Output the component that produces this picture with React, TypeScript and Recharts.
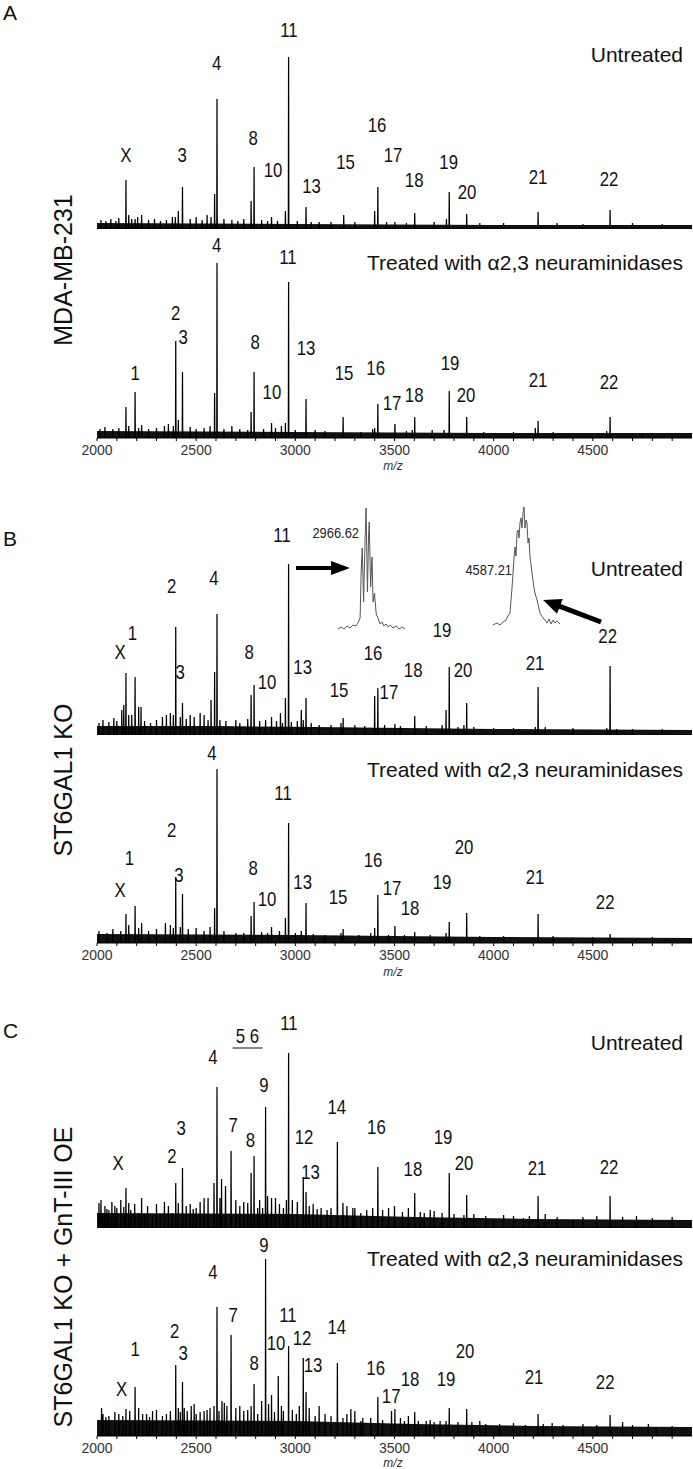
import React from 'react';
import { ComposedChart, LineChart, Line, Area, Scatter, XAxis, YAxis } from 'recharts';

type Pk = [number, number];
type Lb = { t: string; mz: number; y: number; u?: boolean };

const FONT = '"Liberation Sans", Arial, Helvetica, sans-serif';

const MAJOR_TICKS = [2000, 2500, 3000, 3500, 4000, 4500];
const MINOR_TICKS = [2000, 2100, 2200, 2300, 2400, 2500, 2600, 2700, 2800, 2900, 3000, 3100, 3200, 3300, 3400, 3500, 3600, 3700, 3800, 3900, 4000, 4100, 4200, 4300, 4400, 4500, 4600, 4700, 4800, 4900];

// ---------- Panel A : MDA-MB-231 ----------
const A_TOP_PEAKS: Pk[] = [[2146, 49], [2192, 10], [2225, 14], [2395, 12], [2410, 18], [2431, 42], [2575, 12], [2593, 35], [2605, 130], [2777, 28], [2792, 62], [2880, 12], [2950, 18], [2966, 172], [3054, 22], [3244, 14], [3400, 18], [3416, 42], [3502, 7], [3602, 16], [3762, 10], [3776, 37], [3864, 15], [4224, 17], [4587, 19]];
const A_TOP_MINOR: Pk[] = [[2020, 9], [2045, 8], [2070, 10], [2095, 8], [2110, 11], [2160, 14], [2175, 10], [2205, 12], [2260, 9], [2290, 10], [2320, 8], [2350, 9], [2380, 12], [2470, 10], [2500, 12], [2530, 9], [2555, 14], [2640, 10], [2680, 9], [2710, 8], [2740, 10], [2830, 9], [2860, 8], [2910, 8], [3010, 8], [3080, 7], [3120, 7], [3180, 7], [3300, 7], [3460, 7], [3560, 6], [3700, 7], [3930, 6], [4050, 6], [4320, 6], [4450, 5], [4700, 6], [4850, 5]];
const A_TOP_NOISE: Pk[] = [[2000, 6], [3000, 5], [4000, 4], [5000, 4]];
const A_TOP_LABELS: Lb[] = [
  { t: 'X', mz: 2146, y: 74 }, { t: '3', mz: 2429, y: 74 }, { t: '4', mz: 2603, y: 166 }, { t: '8', mz: 2787, y: 91 },
  { t: '10', mz: 2888, y: 59 }, { t: '11', mz: 2968, y: 199 }, { t: '13', mz: 3082, y: 43 }, { t: '15', mz: 3253, y: 67 },
  { t: '16', mz: 3412, y: 104 }, { t: '17', mz: 3493, y: 74 }, { t: '18', mz: 3599, y: 49 }, { t: '19', mz: 3773, y: 67 },
  { t: '20', mz: 3866, y: 37 }, { t: '21', mz: 4224, y: 52 }, { t: '22', mz: 4582, y: 50 },
];

const A_BOT_PEAKS: Pk[] = [[2146, 31], [2192, 46], [2225, 13], [2385, 12], [2397, 97], [2410, 18], [2431, 66], [2593, 45], [2605, 175], [2777, 26], [2792, 66], [2880, 15], [2950, 15], [2966, 156], [3054, 39], [3241, 21], [3330, 6], [3400, 10], [3416, 34], [3502, 14], [3590, 8], [3602, 21], [3690, 8], [3776, 47], [3864, 21], [4224, 17], [4587, 21]];
const A_BOT_MINOR: Pk[] = [[2015, 9], [2040, 11], [2080, 9], [2110, 10], [2160, 12], [2210, 10], [2260, 9], [2300, 10], [2340, 12], [2360, 14], [2470, 11], [2500, 9], [2540, 10], [2570, 12], [2640, 9], [2680, 12], [2720, 9], [2760, 8], [2840, 9], [2900, 10], [2930, 12], [3000, 8], [3100, 8], [3150, 7], [3390, 9], [3560, 7], [3750, 8], [3950, 6], [4100, 6], [4210, 10], [4300, 6], [4570, 7], [4750, 5]];
const A_BOT_NOISE: Pk[] = [[2000, 7], [3000, 6], [4000, 5], [5000, 5]];
const A_BOT_LABELS: Lb[] = [
  { t: '1', mz: 2192, y: 65 }, { t: '2', mz: 2396, y: 125 }, { t: '3', mz: 2434, y: 101 }, { t: '4', mz: 2603, y: 193 },
  { t: '8', mz: 2797, y: 96 }, { t: '10', mz: 2882, y: 46 }, { t: '11', mz: 2963, y: 181 }, { t: '13', mz: 3054, y: 90 },
  { t: '15', mz: 3246, y: 65 }, { t: '16', mz: 3405, y: 70 }, { t: '17', mz: 3488, y: 35 }, { t: '18', mz: 3599, y: 43 },
  { t: '19', mz: 3780, y: 75 }, { t: '20', mz: 3861, y: 43 }, { t: '21', mz: 4224, y: 58 }, { t: '22', mz: 4582, y: 56 },
];

// ---------- Panel B : ST6GAL1 KO ----------
const B_TOP_PEAKS: Pk[] = [[2146, 62], [2160, 20], [2192, 58], [2210, 28], [2222, 28], [2385, 20], [2397, 108], [2431, 32], [2560, 15], [2575, 35], [2593, 63], [2605, 121], [2777, 40], [2792, 50], [2880, 18], [2935, 12], [2950, 37], [2966, 171], [3040, 15], [3054, 37], [3230, 12], [3241, 17], [3400, 39], [3416, 47], [3502, 11], [3602, 19], [3760, 25], [3776, 68], [3850, 10], [3864, 32], [4210, 8], [4224, 48], [4570, 7], [4587, 69], [4620, 6]];
const B_TOP_MINOR: Pk[] = [[2010, 12], [2030, 15], [2060, 13], [2085, 17], [2100, 14], [2125, 25], [2135, 30], [2175, 20], [2240, 14], [2270, 12], [2300, 15], [2330, 18], [2350, 20], [2370, 22], [2420, 18], [2450, 16], [2470, 20], [2490, 18], [2520, 22], [2540, 20], [2620, 15], [2650, 14], [2700, 15], [2720, 12], [2760, 16], [2820, 14], [2850, 15], [2905, 14], [2925, 22], [2980, 13], [3010, 14], [3030, 25], [3080, 12], [3120, 10], [3180, 10], [3300, 10], [3350, 9], [3450, 10], [3530, 9], [3660, 9], [3740, 10], [3820, 8], [3900, 8], [4000, 7], [4100, 7], [4260, 8], [4400, 7], [4700, 6], [4850, 6]];
const B_TOP_NOISE: Pk[] = [[2000, 9], [2600, 9], [3100, 8], [4000, 6], [5000, 5]];
const B_TOP_LABELS: Lb[] = [
  { t: 'X', mz: 2116, y: 83 }, { t: '1', mz: 2179, y: 102 }, { t: '2', mz: 2376, y: 149 }, { t: '3', mz: 2419, y: 63 },
  { t: '4', mz: 2590, y: 157 }, { t: '8', mz: 2767, y: 83 }, { t: '10', mz: 2857, y: 53 }, { t: '11', mz: 2933, y: 200 },
  { t: '13', mz: 3037, y: 68 }, { t: '15', mz: 3220, y: 45 }, { t: '16', mz: 3392, y: 82 }, { t: '17', mz: 3472, y: 43 },
  { t: '18', mz: 3594, y: 65 }, { t: '19', mz: 3740, y: 105 }, { t: '20', mz: 3846, y: 65 }, { t: '21', mz: 4209, y: 72 },
  { t: '22', mz: 4575, y: 99 },
];

const B_BOT_PEAKS: Pk[] = [[2146, 29], [2192, 37], [2225, 20], [2385, 15], [2397, 66], [2431, 49], [2593, 35], [2605, 174], [2777, 27], [2792, 41], [2880, 16], [2950, 25], [2966, 120], [3054, 40], [3241, 14], [3400, 15], [3416, 48], [3502, 17], [3602, 11], [3776, 21], [3864, 30], [4224, 29], [4587, 9]];
const B_BOT_MINOR: Pk[] = [[2010, 12], [2050, 10], [2080, 14], [2120, 12], [2160, 18], [2210, 15], [2260, 12], [2300, 14], [2345, 20], [2370, 18], [2420, 16], [2460, 14], [2500, 15], [2540, 12], [2570, 16], [2640, 12], [2700, 10], [2740, 10], [2830, 11], [2860, 10], [2920, 12], [3000, 10], [3030, 12], [3090, 9], [3150, 8], [3230, 10], [3320, 8], [3380, 10], [3470, 8], [3550, 8], [3680, 8], [3760, 10], [3930, 7], [4050, 7], [4300, 7], [4500, 6], [4800, 6]];
const B_BOT_NOISE: Pk[] = [[2000, 9], [3000, 8], [4000, 6], [5000, 5]];
const B_BOT_LABELS: Lb[] = [
  { t: 'X', mz: 2116, y: 53 }, { t: '1', mz: 2164, y: 85 }, { t: '2', mz: 2376, y: 113 }, { t: '3', mz: 2413, y: 68 },
  { t: '4', mz: 2580, y: 190 }, { t: '8', mz: 2787, y: 75 }, { t: '10', mz: 2857, y: 44 }, { t: '11', mz: 2938, y: 150 },
  { t: '13', mz: 3037, y: 61 }, { t: '15', mz: 3215, y: 46 }, { t: '16', mz: 3392, y: 83 }, { t: '17', mz: 3488, y: 55 },
  { t: '18', mz: 3578, y: 35 }, { t: '19', mz: 3740, y: 61 }, { t: '20', mz: 3851, y: 96 }, { t: '21', mz: 4209, y: 66 },
  { t: '22', mz: 4562, y: 41 },
];

// Insets (isotope envelopes of peaks 11 and 22, ST6GAL1 KO untreated)
const INSET1_PROFILE: Pk[] = [[2958.6, 3], [2959.5, 5], [2960.3, 3], [2961.2, 6], [2962.0, 4], [2962.9, 7], [2963.7, 6], [2964.3, 9], [2964.9, 14], [2965.2, 60], [2965.5, 84], [2965.9, 30], [2966.3, 90], [2966.6, 124], [2967.0, 40], [2967.3, 95], [2967.5, 110], [2967.9, 45], [2968.3, 75], [2968.6, 30], [2969.0, 39], [2969.5, 18], [2970.0, 14], [2970.6, 8], [2971.2, 10], [2971.7, 6], [2972.3, 8], [2972.9, 5], [2973.5, 7], [2974.3, 4], [2975.2, 6], [2976.0, 3], [2976.9, 5], [2977.7, 3]];
const INSET2_PROFILE: Pk[] = [[4574.8, 3], [4576.4, 5], [4577.6, 3], [4578.8, 6], [4580.0, 8], [4580.8, 12], [4581.6, 15], [4582.4, 40], [4583.2, 70], [4583.6, 81], [4584.0, 72], [4584.4, 95], [4584.8, 98], [4585.2, 90], [4585.6, 105], [4586.0, 110], [4586.4, 100], [4586.8, 115], [4587.2, 121], [4587.6, 100], [4588.0, 108], [4588.4, 105], [4588.8, 85], [4589.2, 90], [4589.6, 71], [4590.4, 55], [4591.2, 40], [4591.6, 35], [4592.4, 28], [4593.6, 15], [4594.8, 10], [4595.6, 8], [4596.4, 5], [4597.2, 9], [4598.0, 4], [4598.8, 8], [4599.6, 5], [4600.4, 7], [4601.6, 4]];

// ---------- Panel C : ST6GAL1 KO + GnT-III OE ----------
const C_TOP_PEAKS: Pk[] = [[2146, 40], [2397, 45], [2431, 60], [2560, 30], [2590, 45], [2605, 141], [2628, 49], [2648, 42], [2676, 77], [2777, 55], [2792, 72], [2850, 121], [2880, 30], [2955, 28], [2966, 175], [3040, 51], [3054, 36], [3070, 22], [3212, 86], [3240, 25], [3290, 20], [3416, 61], [3470, 20], [3602, 35], [3680, 18], [3776, 55], [3864, 33], [4224, 32], [4587, 32]];
const C_TOP_MINOR: Pk[] = [[2010, 25], [2020, 28], [2030, 15], [2040, 22], [2050, 19], [2060, 18], [2075, 26], [2090, 22], [2100, 20], [2120, 28], [2135, 21], [2160, 25], [2170, 18], [2190, 24], [2210, 15], [2225, 30], [2240, 14], [2255, 22], [2280, 12], [2300, 24], [2320, 14], [2340, 26], [2360, 22], [2380, 15], [2410, 25], [2450, 22], [2470, 24], [2485, 19], [2500, 20], [2520, 26], [2540, 30], [2620, 30], [2700, 28], [2720, 22], [2740, 26], [2760, 25], [2810, 20], [2820, 28], [2835, 20], [2860, 32], [2900, 30], [2920, 24], [2940, 20], [2985, 28], [3010, 26], [3090, 24], [3110, 19], [3130, 20], [3160, 18], [3180, 20], [3260, 22], [3300, 20], [3330, 15], [3360, 18], [3390, 20], [3440, 18], [3500, 22], [3540, 16], [3570, 20], [3630, 16], [3650, 15], [3700, 17], [3740, 15], [3800, 14], [3850, 13], [3900, 14], [3960, 12], [4000, 8], [4050, 13], [4100, 12], [4150, 10], [4180, 12], [4260, 14], [4320, 11], [4400, 8], [4450, 11], [4520, 12], [4650, 11], [4720, 12], [4800, 10], [4900, 11]];
const C_TOP_NOISE: Pk[] = [[2000, 15], [3000, 14], [3600, 11], [4200, 9], [5000, 8]];
const C_TOP_LABELS: Lb[] = [
  { t: 'X', mz: 2106, y: 65 }, { t: '2', mz: 2378, y: 72 }, { t: '3', mz: 2424, y: 100 }, { t: '4', mz: 2585, y: 171 },
  { t: '5 6', mz: 2759, y: 192, u: true }, { t: '7', mz: 2686, y: 103 }, { t: '8', mz: 2774, y: 88 }, { t: '9', mz: 2842, y: 143 },
  { t: '11', mz: 2968, y: 205 }, { t: '12', mz: 3044, y: 91 }, { t: '13', mz: 3077, y: 56 }, { t: '14', mz: 3209, y: 121 },
  { t: '16', mz: 3409, y: 101 }, { t: '18', mz: 3593, y: 59 }, { t: '19', mz: 3745, y: 91 }, { t: '20', mz: 3851, y: 65 },
  { t: '21', mz: 4219, y: 60 }, { t: '22', mz: 4582, y: 61 },
];

const C_BOT_PEAKS: Pk[] = [[2023, 28], [2146, 27], [2192, 49], [2250, 22], [2280, 25], [2330, 20], [2397, 71], [2410, 28], [2431, 54], [2455, 25], [2475, 30], [2500, 22], [2540, 25], [2570, 28], [2605, 129], [2630, 35], [2642, 33], [2655, 30], [2676, 101], [2740, 25], [2777, 30], [2792, 52], [2850, 177], [2880, 41], [2914, 60], [2940, 25], [2966, 90], [3020, 30], [3040, 78], [3054, 44], [3100, 20], [3212, 73], [3240, 18], [3280, 27], [3300, 25], [3330, 15], [3416, 39], [3485, 25], [3502, 27], [3570, 20], [3602, 24], [3660, 15], [3700, 14], [3760, 15], [3776, 28], [3864, 27], [3930, 15], [4224, 22], [4295, 13], [4587, 21], [4820, 8]];
const C_BOT_MINOR: Pk[] = [[2030, 22], [2045, 19], [2060, 20], [2090, 24], [2110, 22], [2130, 20], [2165, 25], [2210, 28], [2230, 22], [2265, 19], [2300, 26], [2350, 22], [2370, 25], [2420, 24], [2440, 28], [2490, 32], [2520, 24], [2555, 26], [2590, 30], [2615, 25], [2700, 28], [2720, 30], [2760, 26], [2810, 22], [2830, 35], [2865, 32], [2895, 24], [2930, 30], [2985, 26], [3005, 22], [3070, 28], [3120, 30], [3150, 22], [3180, 20], [3260, 22], [3340, 18], [3380, 18], [3440, 16], [3530, 18], [3550, 15], [3620, 15], [3680, 16], [3730, 15], [3820, 14], [3890, 14], [3960, 12], [4030, 12], [4100, 13], [4160, 11], [4250, 12], [4350, 11], [4450, 12], [4520, 11], [4650, 14], [4700, 11], [4780, 12], [4900, 10]];
const C_BOT_NOISE: Pk[] = [[2000, 16], [3000, 15], [3600, 12], [4200, 10], [5000, 9]];
const C_BOT_LABELS: Lb[] = [
  { t: 'X', mz: 2124, y: 47 }, { t: '1', mz: 2192, y: 87 }, { t: '2', mz: 2391, y: 105 }, { t: '3', mz: 2434, y: 83 },
  { t: '4', mz: 2585, y: 164 }, { t: '7', mz: 2686, y: 121 }, { t: '8', mz: 2792, y: 73 }, { t: '9', mz: 2842, y: 191 },
  { t: '10', mz: 2903, y: 93 }, { t: '11', mz: 2963, y: 121 }, { t: '12', mz: 3034, y: 98 }, { t: '13', mz: 3089, y: 71 },
  { t: '14', mz: 3209, y: 109 }, { t: '16', mz: 3405, y: 68 }, { t: '17', mz: 3483, y: 40 }, { t: '18', mz: 3578, y: 57 },
  { t: '19', mz: 3760, y: 57 }, { t: '20', mz: 3856, y: 85 }, { t: '21', mz: 4204, y: 59 }, { t: '22', mz: 4562, y: 54 },
];

// ---------- helpers ----------
function buildSticks(major: Pk[], minor: Pk[]) {
  const all = [...major, ...minor].sort((a, b) => a[0] - b[0]);
  const out: { mz: number; y: number }[] = [{ mz: 2000, y: 0 }];
  for (const [m, h] of all) {
    out.push({ mz: m - 1.2, y: 0 }, { mz: m, y: h }, { mz: m + 1.2, y: 0 });
  }
  out.push({ mz: 5000, y: 0 });
  return out;
}
const toRows = (a: Pk[]) => a.map(([mz, y]) => ({ mz, y }));

const LabelShape = (p: any) => {
  const { cx, cy, payload } = p;
  if (cx == null || cy == null) return <g />;
  return (
    <g>
      <text
        x={0}
        y={0}
        transform={`translate(${cx} ${cy}) scale(0.84 1)`}
        textAnchor="middle"
        dominantBaseline="central"
        fontSize={20}
        fontFamily={FONT}
        fill="#111"
      >
        {payload.t}
      </text>
      {payload.u ? <line x1={cx - 15} x2={cx + 15} y1={cy + 12} y2={cy + 12} stroke="#111" strokeWidth={1} /> : null}
    </g>
  );
};

const AxisTick = (p: any) => {
  const v = p.payload?.value;
  if (!MAJOR_TICKS.includes(v)) return <g />;
  return (
    <text x={p.x} y={p.y} dy={12} textAnchor="middle" fontSize={14} fill="#333" fontFamily={FONT}>
      {v}
    </text>
  );
};

type SpecProps = { top: number; baseline: number; axis: boolean; peaks: Pk[]; minor: Pk[]; noise: Pk[]; labels: Lb[] };

function Spectrum({ top, baseline, axis, peaks, minor, noise, labels }: SpecProps) {
  const plotH = baseline - top;
  const axisH = axis ? 32 : 0;
  const sticks = buildSticks(peaks, minor);
  return (
    <div style={{ position: 'absolute', left: 0, top, width: 693, height: plotH + axisH }}>
      <ComposedChart width={693} height={plotH + axisH} margin={{ top: 0, right: 1, bottom: 0, left: 97 }}>
        <XAxis
          type="number"
          dataKey="mz"
          domain={[2000, 5000]}
          allowDataOverflow
          ticks={MINOR_TICKS}
          interval={0}
          hide={!axis}
          height={axisH}
          tickSize={3}
          tickMargin={2}
          tick={AxisTick}
          axisLine={{ stroke: '#000', strokeWidth: 1.2 }}
          tickLine={{ stroke: '#000' }}
        />
        <YAxis type="number" hide domain={[0, plotH]} allowDataOverflow />
        <Area data={toRows(noise)} dataKey="y" type="linear" stroke="none" fill="#111" fillOpacity={1} isAnimationActive={false} dot={false} activeDot={false} />
        <Line data={sticks} dataKey="y" type="linear" stroke="#000" strokeWidth={1.25} dot={false} activeDot={false} isAnimationActive={false} />
        <Scatter data={labels} dataKey="y" shape={LabelShape} isAnimationActive={false} />
      </ComposedChart>
    </div>
  );
}

function Inset({ left, top, width, height, data, domain }: { left: number; top: number; width: number; height: number; data: Pk[]; domain: [number, number] }) {
  return (
    <div style={{ position: 'absolute', left, top, width, height }}>
      <LineChart width={width} height={height} data={toRows(data)} margin={{ top: 0, right: 0, bottom: 0, left: 0 }}>
        <XAxis type="number" dataKey="mz" domain={domain} hide allowDataOverflow />
        <YAxis type="number" hide domain={[0, height]} allowDataOverflow />
        <Line dataKey="y" type="linear" stroke="#555" strokeWidth={1} dot={false} activeDot={false} isAnimationActive={false} />
      </LineChart>
    </div>
  );
}

const txt = { fontFamily: FONT, fill: '#111' } as const;

export default function App() {
  return (
    <div style={{ position: 'relative', width: 693, height: 1469, background: '#fff', overflow: 'hidden' }}>
      <style>{'body{margin:0}'}</style>

      <Spectrum top={10} baseline={229} axis={false} peaks={A_TOP_PEAKS} minor={A_TOP_MINOR} noise={A_TOP_NOISE} labels={A_TOP_LABELS} />
      <Spectrum top={226} baseline={438} axis peaks={A_BOT_PEAKS} minor={A_BOT_MINOR} noise={A_BOT_NOISE} labels={A_BOT_LABELS} />
      <Spectrum top={495} baseline={735} axis={false} peaks={B_TOP_PEAKS} minor={B_TOP_MINOR} noise={B_TOP_NOISE} labels={B_TOP_LABELS} />
      <Spectrum top={732} baseline={943} axis peaks={B_BOT_PEAKS} minor={B_BOT_MINOR} noise={B_BOT_NOISE} labels={B_BOT_LABELS} />
      <Spectrum top={1005} baseline={1228} axis={false} peaks={C_TOP_PEAKS} minor={C_TOP_MINOR} noise={C_TOP_NOISE} labels={C_TOP_LABELS} />
      <Spectrum top={1226} baseline={1436} axis peaks={C_BOT_PEAKS} minor={C_BOT_MINOR} noise={C_BOT_NOISE} labels={C_BOT_LABELS} />

      <Inset left={338} top={500} width={67} height={132} data={INSET1_PROFILE} domain={[2958.6, 2977.7]} />
      <Inset left={493} top={500} width={67} height={128} data={INSET2_PROFILE} domain={[4574.8, 4601.6]} />

      <svg width={693} height={1469} style={{ position: 'absolute', left: 0, top: 0, pointerEvents: 'none' }}>
        {/* panel letters */}
        <text x={3} y={20} fontSize={21} {...txt}>A</text>
        <text x={3} y={546} fontSize={21} {...txt}>B</text>
        <text x={3} y={1038} fontSize={21} {...txt}>C</text>

        {/* rotated cell-line labels */}
        <text transform="translate(72 270) rotate(-90)" textAnchor="middle" fontSize={25} {...txt}>MDA-MB-231</text>
        <text transform="translate(72 780) rotate(-90)" textAnchor="middle" fontSize={25} {...txt}>ST6GAL1 KO</text>
        <text transform="translate(72 1277) rotate(-90)" textAnchor="middle" fontSize={25} {...txt}>ST6GAL1 KO + GnT-III OE</text>

        {/* condition labels */}
        <text x={683} y={62} textAnchor="end" fontSize={21} {...txt}>Untreated</text>
        <text x={683} y={270} textAnchor="end" fontSize={21} {...txt}>Treated with α2,3 neuraminidases</text>
        <text x={683} y={576} textAnchor="end" fontSize={21} {...txt}>Untreated</text>
        <text x={683} y={777} textAnchor="end" fontSize={21} {...txt}>Treated with α2,3 neuraminidases</text>
        <text x={683} y={1050} textAnchor="end" fontSize={21} {...txt}>Untreated</text>
        <text x={683} y={1266} textAnchor="end" fontSize={21} {...txt}>Treated with α2,3 neuraminidases</text>

        {/* axis titles */}
        <text x={393} y={470} textAnchor="middle" fontSize={12} fontStyle="italic" fontFamily={FONT} fill="#333">m/z</text>
        <text x={393} y={976} textAnchor="middle" fontSize={12} fontStyle="italic" fontFamily={FONT} fill="#333">m/z</text>
        <text x={393} y={1467} textAnchor="middle" fontSize={12} fontStyle="italic" fontFamily={FONT} fill="#333">m/z</text>

        {/* inset labels */}
        <text x={359} y={533} textAnchor="end" dominantBaseline="central" fontSize={15} fontFamily={FONT} fill="#222" transform="translate(359 0) scale(0.86 1) translate(-359 0)">2966.62</text>
        <text x={512} y={570} textAnchor="end" dominantBaseline="central" fontSize={15} fontFamily={FONT} fill="#222" transform="translate(512 0) scale(0.86 1) translate(-512 0)">4587.21</text>

        {/* arrows */}
        <polygon points="296,566 331,566 331,561 350,568 331,575 331,570 296,570" fill="#000" />
        <g transform="translate(601 622) rotate(200.8)">
          <polygon points="0,-2.5 44,-2.5 44,-8 62,0 44,8 44,2.5 0,2.5" fill="#000" />
        </g>
      </svg>
    </div>
  );
}
